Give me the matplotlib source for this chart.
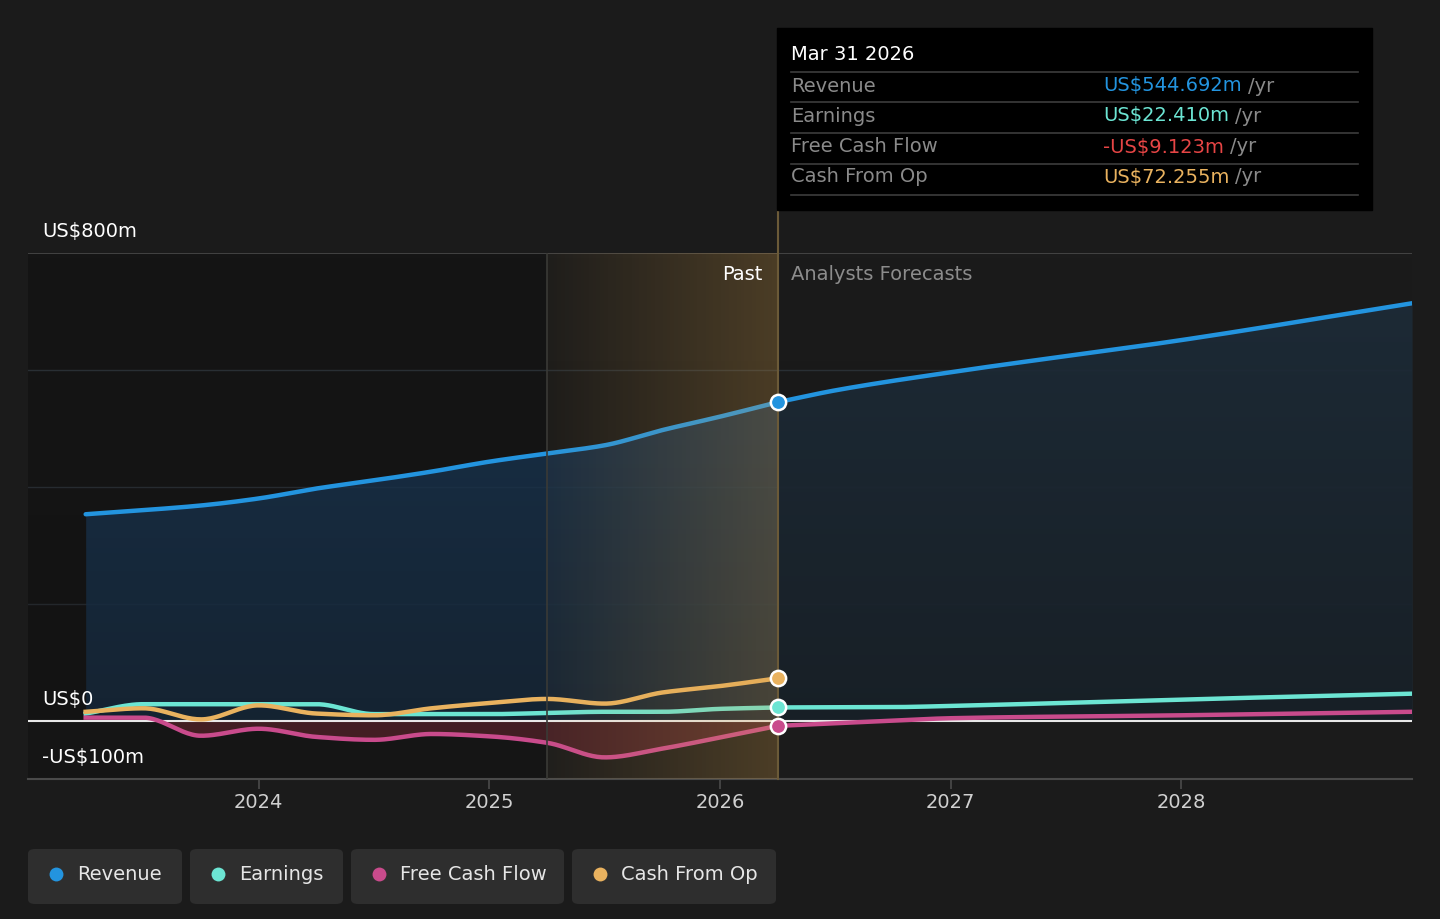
import numpy as np
import matplotlib
matplotlib.use("Agg")
import matplotlib.pyplot as plt
from matplotlib.patches import FancyBboxPatch, Rectangle

# donnees (millions US$), trimestrielles pour le passe
t_past = [2023.25, 2023.5, 2023.75, 2024.0, 2024.25, 2024.5, 2024.75,
          2025.0, 2025.25, 2025.5, 2025.75, 2026.0, 2026.25]
revenue_past = [353, 360, 368, 380, 397, 411, 426, 443, 457, 471, 497, 520, 544.692]
earnings_past = [12, 28, 28, 28, 28, 11, 11, 11, 13, 15, 15, 20, 22.41]
fcf_past = [5, 5, -26, -14, -28, -33, -23, -27, -38, -63, -48, -29, -9.123]
cfo_past = [15, 21, 2, 26, 12, 9, 21, 30, 37, 29, 48, 59, 72.255]

# previsions des analystes
t_fc = [2026.25, 2026.5, 2027.0, 2028.0, 2029.0]
revenue_fc = [544.692, 565, 596, 651, 714]
t_fc2 = [2026.25, 2026.75, 2027.0, 2028.0, 2029.0]
earnings_fc = [22.41, 23, 25, 36, 46]
fcf_fc = [-9.123, 0, 4, 9, 15]

year_ticks = [2024, 2025, 2026, 2027, 2028]
series_names = ["Revenue", "Earnings", "Free Cash Flow", "Cash From Op"]
tip_values = ["US$544.692m", "US$22.410m", "-US$9.123m", "US$72.255m"]

BG = "#1b1b1b"
C_REV = "#2394df"
C_EARN = "#6ce5d3"
C_FCF = "#c94b8c"
C_CFO = "#e9b25f"
C_TIP = [C_REV, C_EARN, "#e64545", C_CFO]
W, H = 1440, 919
FS = 14


def lisse(x, y, n=300):
    # interpolation monotone (pchip) pour le rendu de la courbe
    x = np.asarray(x, float)
    y = np.asarray(y, float)
    h = np.diff(x)
    d = np.diff(y) / h
    m = np.zeros_like(y)
    m[0], m[-1] = d[0], d[-1]
    for i in range(1, len(y) - 1):
        if d[i - 1] * d[i] > 0:
            w1 = 2 * h[i] + h[i - 1]
            w2 = h[i] + 2 * h[i - 1]
            m[i] = (w1 + w2) / (w1 / d[i - 1] + w2 / d[i])
    xs = np.linspace(x[0], x[-1], n)
    idx = np.clip(np.searchsorted(x, xs) - 1, 0, len(x) - 2)
    t = (xs - x[idx]) / h[idx]
    h00 = 2 * t**3 - 3 * t**2 + 1
    h10 = t**3 - 2 * t**2 + t
    h01 = -2 * t**3 + 3 * t**2
    h11 = t**3 - t**2
    ys = h00 * y[idx] + h10 * h[idx] * m[idx] + h01 * y[idx + 1] + h11 * h[idx] * m[idx + 1]
    return xs, ys


fig = plt.figure(figsize=(W / 100, H / 100), dpi=100, facecolor=BG)
ax = fig.add_axes([28 / W, 1 - 779 / H, (1412 - 28) / W, (779 - 253) / H])
ax.set_facecolor(BG)
ax.set_xlim(2023.0, 2029.0)
ax.set_ylim(-100, 800)
for s in ax.spines.values():
    s.set_visible(False)

x0, xnow = t_past[8], t_past[-1]

# zone sombre a gauche
ax.axvspan(2023.0, x0, color="#151515", zorder=0, lw=0)

# grille
for g in [200, 400, 600]:
    ax.axhline(g, color="#2d3339", lw=1, zorder=1)
ax.axhline(800, color="#4a4a4a", lw=1.2, zorder=1)
ax.axhline(-100, color="#4a4a4a", lw=1.5, zorder=1, clip_on=False)

# courbes lissees
rx, ry = lisse(t_past, revenue_past)
rfx, rfy = lisse(t_fc, revenue_fc)
ex, ey = lisse(t_past, earnings_past)
efx, efy = lisse(t_fc2, earnings_fc)
fx, fy = lisse(t_past, fcf_past)
ffx, ffy = lisse(t_fc2, fcf_fc)
cx, cy = lisse(t_past, cfo_past)

# aire du chiffre d'affaires avec degrade
ax.fill_between(rx, 0, ry, color="#1a3a5a", alpha=0.8, lw=0, zorder=2)
ax.fill_between(rfx, 0, rfy, color="#1e2d3b", alpha=0.9, lw=0, zorder=2)
grad = np.zeros((100, 2, 4))
grad[..., :3] = 0.07
grad[..., 3] = np.linspace(0.45, 0.0, 100)[:, None]
ax.imshow(grad, extent=[2023.0, 2029.0, 0, 800], origin="lower", aspect="auto", zorder=2.5)

# aire negative du flux de tresorerie libre
ax.fill_between(fx, fy, 0, where=fy < 0, color="#7a2a35", alpha=0.45, lw=0, zorder=2.6)

ax.plot(rx, ry, color=C_REV, lw=3.2, zorder=4, solid_capstyle="round")
ax.plot(rfx, rfy, color=C_REV, lw=3.2, zorder=4, solid_capstyle="round")
ax.plot(ex, ey, color=C_EARN, lw=3.2, zorder=4)
ax.plot(efx, efy, color=C_EARN, lw=3.2, zorder=4)
ax.plot(fx, fy, color=C_FCF, lw=3.2, zorder=4)
ax.plot(ffx, ffy, color=C_FCF, lw=3.2, zorder=4)
ax.plot(cx, cy, color=C_CFO, lw=3.2, zorder=4)

ax.axhline(0, color="#e8e8e8", lw=1.5, zorder=3.5)

# zone "Past" en degrade orange par-dessus
hl = np.zeros((2, 100, 4))
hl[..., 0], hl[..., 1], hl[..., 2] = 0.85, 0.63, 0.28
hl[..., 3] = np.linspace(0.03, 0.26, 100)[None, :]
ax.imshow(hl, extent=[x0, xnow, -100, 800], origin="lower", aspect="auto", zorder=5)
ax.axvline(x0, color="#3a3a36", lw=1.2, zorder=5)
ax.plot([xnow, xnow], [-100, 873], color="#6b5a38", lw=1.5, zorder=5, clip_on=False)

# marqueurs a la date du jour
for v, c in [(revenue_past[-1], C_REV), (cfo_past[-1], C_CFO),
             (earnings_past[-1], C_EARN), (fcf_past[-1], C_FCF)]:
    ax.plot([xnow], [v], "o", ms=11, mfc=c, mec="white", mew=1.8, zorder=7)

ax.set_xticks(year_ticks)
ax.set_xticklabels([str(y) for y in year_ticks])
ax.tick_params(axis="x", colors="#4a4a4a", length=7, width=1.2, labelcolor="#d0d0d0",
               labelsize=FS, pad=3)
ax.set_yticks([])

# textes
fig.text(42 / W, 1 - 232 / H, "US$800m", color="white", fontsize=FS, va="center")
fig.text(42 / W, 1 - 699 / H, "US$0", color="white", fontsize=FS, va="center")
fig.text(42 / W, 1 - 758 / H, "-US$100m", color="white", fontsize=FS, va="center")
fig.text(762 / W, 1 - 274 / H, "Past", color="white", fontsize=FS, va="center", ha="right")
fig.text(791 / W, 1 - 274 / H, "Analysts Forecasts", color="#8c8c8c", fontsize=FS, va="center")

# infobulle
fig.patches.append(Rectangle((777 / W, 1 - 210 / H), (1372 - 777) / W, (210 - 28) / H,
                             transform=fig.transFigure, color="black", zorder=10))
fig.text(791 / W, 1 - 55 / H, "Mar 31 2026", color="white", fontsize=FS, va="center", zorder=11)
for yy in [72, 102, 133, 164, 195]:
    fig.add_artist(plt.Line2D([791 / W, 1358 / W], [1 - yy / H, 1 - yy / H],
                              color="#3d3d3d", lw=1.2, zorder=11))
rows_y = [86, 116, 147, 177]
for name, val, col, yy in zip(series_names, tip_values, C_TIP, rows_y):
    fig.text(791 / W, 1 - yy / H, name, color="#8a8a8a", fontsize=FS, va="center", zorder=11)
    tv = fig.text(1103 / W, 1 - yy / H, val, color=col, fontsize=FS, va="center", zorder=11)
    fig.canvas.draw()
    bb = tv.get_window_extent()
    fig.text((bb.x1 + 6) / W, 1 - yy / H, "/yr", color="#8a8a8a", fontsize=FS,
             va="center", zorder=11)

# legende en boutons
boutons = [(28, 182), (190, 343), (351, 564), (572, 776)]
for (bx0, bx1), name, col in zip(boutons, series_names, [C_REV, C_EARN, C_FCF, C_CFO]):
    fig.patches.append(FancyBboxPatch((bx0 / W, 1 - 904 / H), (bx1 - bx0) / W, (904 - 849) / H,
                                      boxstyle="round,pad=0,rounding_size=0.005",
                                      transform=fig.transFigure, fc="#2e2e2e", ec="none"))
    fig.add_artist(plt.Line2D([(bx0 + 28) / W], [1 - 874 / H], marker="o", ms=10,
                              color=col, mec="none"))
    fig.text((bx0 + 49) / W, 1 - 874 / H, name, color="#e6e6e6", fontsize=FS, va="center")

fig.savefig("out.png", dpi=100, facecolor=BG)
